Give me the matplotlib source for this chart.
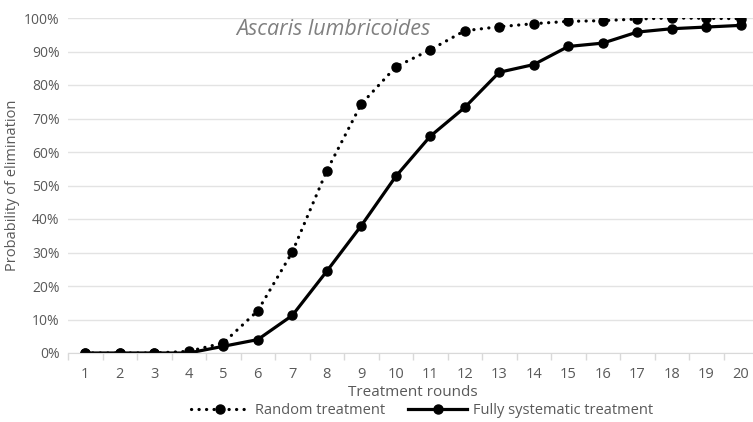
import numpy as np
import matplotlib.pyplot as plt
from matplotlib.ticker import PercentFormatter, FixedLocator

plt.rcParams['font.family'] = ['Open Sans', 'DejaVu Sans']

# treatment rounds and elimination probabilities (%)
rounds = list(range(1, 21))
random_tr = [0, 0, 0, 0.5, 3.0, 12.6, 30.1, 54.4, 74.3, 85.4,
             90.5, 96.2, 97.4, 98.3, 99.0, 99.2, 99.7, 100, 99.9, 99.8]
systematic_tr = [0, 0, 0, 0, 2.0, 4.0, 11.2, 24.4, 38.0, 52.7,
                 64.7, 73.3, 83.8, 86.1, 91.5, 92.5, 95.8, 96.8, 97.3, 97.8]

GREY = '#595959'

fig = plt.figure(figsize=(7.53, 4.22), dpi=100)
ax = fig.add_axes([68 / 753, 69 / 422, 690 / 753, 335 / 422])

ax.plot(rounds, random_tr, color='black', lw=2.3, ls=(0, (0.05, 2.3)),
        dash_capstyle='round', marker='o', ms=6.5, label='Random treatment')
ax.plot(rounds, systematic_tr, color='black', lw=2.3, marker='o', ms=6.5,
        label='Fully systematic treatment')

ax.set_xlim(0.5, 20.5)
ax.set_ylim(0, 100)
ax.set_yticks(np.arange(0, 101, 10))
ax.yaxis.set_major_formatter(PercentFormatter(decimals=0))
ax.set_xticks(rounds)
ax.xaxis.set_minor_locator(FixedLocator(np.arange(0.5, 21, 1)))
ax.tick_params(axis='x', which='major', length=0, pad=10, labelsize=10.5, colors=GREY)
ax.tick_params(axis='x', which='minor', length=5, color='#d9d9d9', width=1)
ax.tick_params(axis='y', length=0, pad=6, labelsize=10, colors=GREY)

ax.grid(axis='y', color='#e3e3e3', lw=1)
ax.set_axisbelow(True)
for s in ['top', 'right', 'left']:
    ax.spines[s].set_visible(False)
ax.spines['bottom'].set_color('#d9d9d9')

ax.set_xlabel('Treatment rounds', fontsize=11, color=GREY, labelpad=2)
ax.set_ylabel('Probability of elimination', fontsize=10.5, color=GREY, labelpad=3)

ax.text(8.2, 96.5, 'Ascaris lumbricoides', fontsize=15.5, style='italic',
        color='#808080', ha='center', va='center')

leg = fig.legend(loc='center', bbox_to_anchor=(0.56, 0.028), ncol=2, frameon=False,
                 fontsize=10.5, handlelength=4, handletextpad=0.4, columnspacing=1.6)
for t in leg.get_texts():
    t.set_color(GREY)

fig.savefig('out.png', dpi=100)
